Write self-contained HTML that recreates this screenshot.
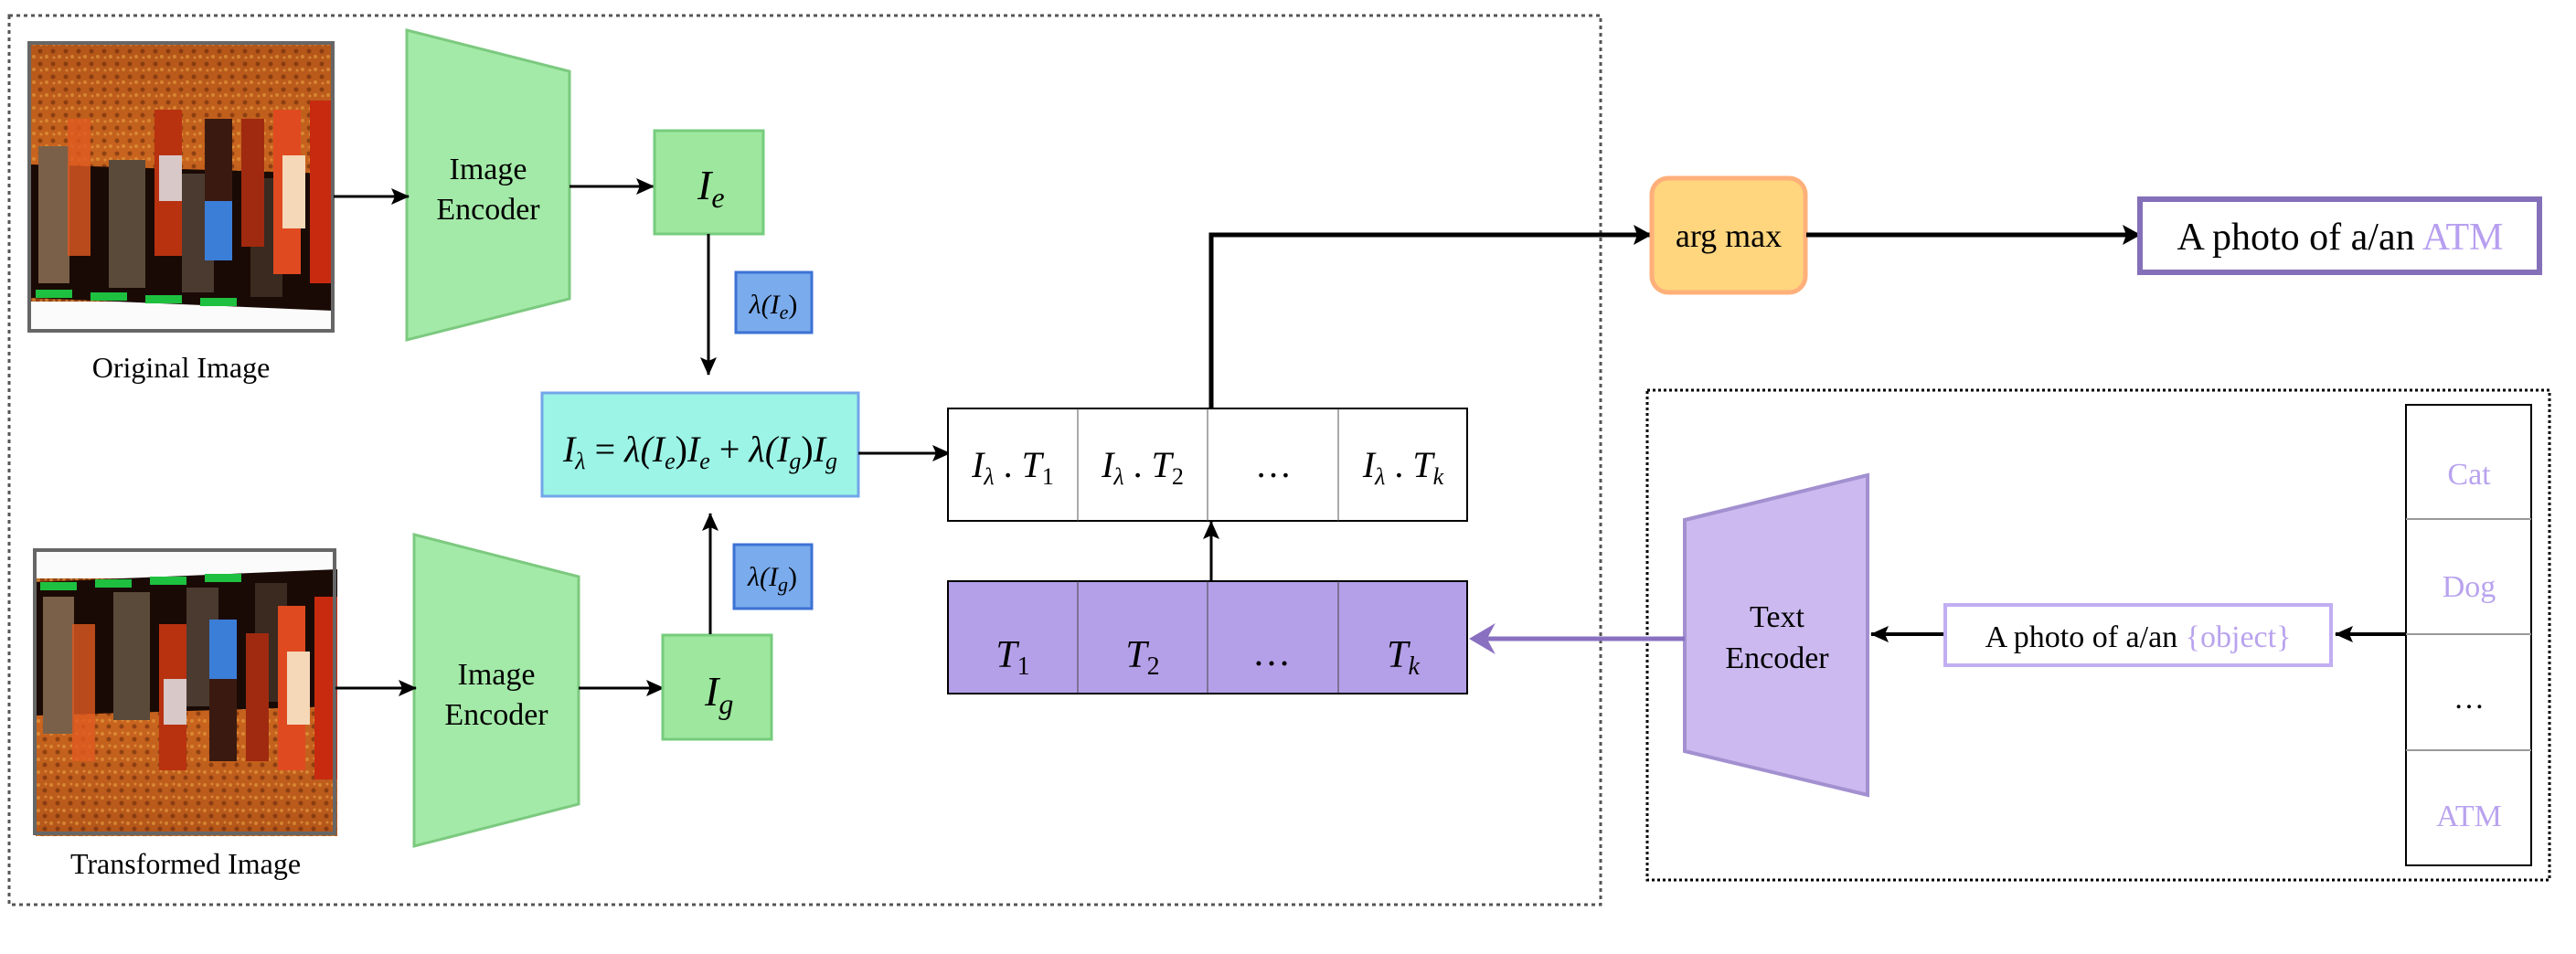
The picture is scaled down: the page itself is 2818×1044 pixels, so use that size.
<!DOCTYPE html>
<html><head><meta charset="utf-8"><style>
html,body{margin:0;padding:0;background:#fff}
svg{display:block}
svg text{font-family:"Liberation Serif","DejaVu Serif",serif !important}
</style></head><body>
<svg width="2818" height="1044" viewBox="0 0 2818 1044" xmlns="http://www.w3.org/2000/svg" font-family="Liberation Serif, serif">
<defs>
<marker id="ah" markerWidth="20" markerHeight="18" refX="19" refY="9" orient="auto" markerUnits="userSpaceOnUse" viewBox="0 0 20 18">
<path d="M0,0 L20,9 L0,18 L4,9 z" fill="#000"/></marker>
<marker id="ahb" markerWidth="20" markerHeight="22" refX="19" refY="11" orient="auto" markerUnits="userSpaceOnUse" viewBox="0 0 20 22">
<path d="M0,0 L20,11 L0,22 L4,11 z" fill="#000"/></marker>
<linearGradient id="gr" x1="0" y1="0" x2="0" y2="1">
<stop offset="0" stop-color="#8a3a10"/><stop offset="0.6" stop-color="#c8641e"/><stop offset="1" stop-color="#b4561a"/></linearGradient>
<pattern id="noise" width="14" height="14" patternUnits="userSpaceOnUse">
<rect width="14" height="14" fill="none"/><circle cx="3" cy="4" r="2" fill="#e8a040" opacity="0.6"/><circle cx="10" cy="10" r="2.5" fill="#5a2008" opacity="0.5"/><circle cx="11" cy="3" r="1.5" fill="#f0b050" opacity="0.5"/>
</pattern>
<g id="scene">
<rect x="0" y="0" width="330" height="312" fill="url(#gr)"/>
<rect x="0" y="0" width="330" height="312" fill="url(#noise)"/>
<rect x="0" y="0" width="330" height="30" fill="#fbfbfb"/>
<polygon points="0,34 330,20 330,170 0,180" fill="#1a0a05"/>
<rect x="8" y="50" width="34" height="150" fill="#7a6048"/>
<rect x="85" y="45" width="40" height="140" fill="#5a4a3a"/>
<rect x="165" y="40" width="35" height="130" fill="#4a3a30"/>
<rect x="240" y="35" width="35" height="130" fill="#3a2a20"/>
<rect x="5" y="34" width="40" height="9" fill="#1ec040"/>
<rect x="65" y="31" width="40" height="9" fill="#1ec040"/>
<rect x="125" y="28" width="40" height="9" fill="#1ec040"/>
<rect x="185" y="25" width="40" height="9" fill="#1ec040"/>
<rect x="135" y="80" width="30" height="160" fill="#b83210"/>
<rect x="140" y="140" width="25" height="50" fill="#d8c8c8"/>
<rect x="190" y="75" width="30" height="65" fill="#3a7ed8"/>
<rect x="190" y="140" width="30" height="90" fill="#3a1a10"/>
<rect x="230" y="90" width="25" height="140" fill="#a02a10"/>
<rect x="265" y="60" width="30" height="180" fill="#e04a20"/>
<rect x="275" y="110" width="25" height="80" fill="#f4d8b8"/>
<rect x="305" y="50" width="25" height="200" fill="#c82a10"/>
<rect x="40" y="80" width="25" height="150" fill="#e05a20" opacity="0.8"/>
</g>
</defs>

<rect x="10" y="17" width="1741" height="973" fill="none" stroke="#555" stroke-width="3" stroke-dasharray="4,4"/>

<g transform="translate(34,360) scale(1,-1)"><use href="#scene"/></g>
<rect x="32" y="47" width="332" height="315" fill="none" stroke="#666" stroke-width="4"/>
<text x="198" y="413" font-size="32" text-anchor="middle">Original Image</text>

<g transform="translate(39,603)"><use href="#scene"/></g>
<rect x="38" y="602" width="328" height="310" fill="none" stroke="#666" stroke-width="4"/>
<text x="203" y="956" font-size="32" text-anchor="middle">Transformed Image</text>

<polygon points="445,33 623,78 623,327 445,372" fill="#a3eaa8" stroke="#7cc97f" stroke-width="3"/>
<text x="534" y="196" font-size="34" text-anchor="middle">Image</text>
<text x="534" y="240" font-size="34" text-anchor="middle">Encoder</text>
<polygon points="453,585 633,631 633,880 453,926" fill="#a3eaa8" stroke="#7cc97f" stroke-width="3"/>
<text x="543" y="749" font-size="34" text-anchor="middle">Image</text>
<text x="543" y="793" font-size="34" text-anchor="middle">Encoder</text>

<line x1="365" y1="215" x2="447" y2="215" stroke="#000" stroke-width="3" marker-end="url(#ah)"/>
<line x1="623" y1="204" x2="715" y2="204" stroke="#000" stroke-width="3" marker-end="url(#ah)"/>
<line x1="367" y1="753" x2="455" y2="753" stroke="#000" stroke-width="3" marker-end="url(#ah)"/>
<line x1="633" y1="753" x2="726" y2="753" stroke="#000" stroke-width="3" marker-end="url(#ah)"/>

<rect x="716" y="143" width="119" height="113" fill="#9de89e" stroke="#76cc7c" stroke-width="3"/>
<text x="763" y="218" font-size="46" font-style="italic">I<tspan font-size="32" dy="9">e</tspan></text>
<rect x="725" y="695" width="119" height="114" fill="#9de89e" stroke="#76cc7c" stroke-width="3"/>
<text x="771" y="772" font-size="46" font-style="italic">I<tspan font-size="32" dy="9">g</tspan></text>

<line x1="775" y1="256" x2="775" y2="410" stroke="#000" stroke-width="3" marker-end="url(#ah)"/>
<line x1="777" y1="694" x2="777" y2="562" stroke="#000" stroke-width="3" marker-end="url(#ah)"/>

<rect x="805" y="298" width="83" height="66" fill="#7aabec" stroke="#3c72d4" stroke-width="3"/>
<text x="846" y="343" font-size="30" text-anchor="middle" font-style="italic">λ(I<tspan font-size="22" dy="6">e</tspan><tspan dy="-6" font-style="normal">)</tspan></text>
<rect x="803" y="596" width="85" height="70" fill="#7aabec" stroke="#3c72d4" stroke-width="3"/>
<text x="845" y="641" font-size="30" text-anchor="middle" font-style="italic">λ(I<tspan font-size="22" dy="6">g</tspan><tspan dy="-6" font-style="normal">)</tspan></text>

<rect x="593" y="430" width="346" height="113" fill="#9cf4e6" stroke="#72a6e8" stroke-width="3"/>
<text x="766" y="505" font-size="40" text-anchor="middle" font-style="italic">I<tspan font-size="26" dy="8">λ</tspan><tspan dy="-8" font-style="normal"> = </tspan>λ(I<tspan font-size="26" dy="8">e</tspan><tspan dy="-8" font-style="normal">)</tspan>I<tspan font-size="26" dy="8">e</tspan><tspan dy="-8" font-style="normal"> + </tspan>λ(I<tspan font-size="26" dy="8">g</tspan><tspan dy="-8" font-style="normal">)</tspan>I<tspan font-size="26" dy="8">g</tspan></text>
<line x1="939" y1="496" x2="1039" y2="496" stroke="#000" stroke-width="3" marker-end="url(#ah)"/>

<rect x="1037" y="447" width="568" height="123" fill="#fff" stroke="#000" stroke-width="2"/>
<line x1="1179" y1="447" x2="1179" y2="570" stroke="#555" stroke-width="1"/>
<line x1="1321" y1="447" x2="1321" y2="570" stroke="#555" stroke-width="1"/>
<line x1="1464" y1="447" x2="1464" y2="570" stroke="#555" stroke-width="1"/>
<g font-size="40" font-style="italic" text-anchor="middle">
<text x="1108" y="522">I<tspan font-size="26" dy="8">λ</tspan><tspan dy="-8" font-style="normal"> . </tspan>T<tspan font-size="26" dy="8" font-style="normal">1</tspan></text>
<text x="1250" y="522">I<tspan font-size="26" dy="8">λ</tspan><tspan dy="-8" font-style="normal"> . </tspan>T<tspan font-size="26" dy="8" font-style="normal">2</tspan></text>
<text x="1393" y="522" font-style="normal">…</text>
<text x="1535" y="522">I<tspan font-size="26" dy="8">λ</tspan><tspan dy="-8" font-style="normal"> . </tspan>T<tspan font-size="26" dy="8">k</tspan></text>
</g>

<rect x="1037" y="636" width="568" height="123" fill="#b4a0e8" stroke="#000" stroke-width="2"/>
<line x1="1179" y1="636" x2="1179" y2="759" stroke="#444" stroke-width="1"/>
<line x1="1321" y1="636" x2="1321" y2="759" stroke="#444" stroke-width="1"/>
<line x1="1464" y1="636" x2="1464" y2="759" stroke="#444" stroke-width="1"/>
<g font-size="42" font-style="italic" text-anchor="middle">
<text x="1108" y="730">T<tspan font-size="28" dy="8" font-style="normal">1</tspan></text>
<text x="1250" y="730">T<tspan font-size="28" dy="8" font-style="normal">2</tspan></text>
<text x="1391" y="728" font-style="normal">…</text>
<text x="1535" y="730">T<tspan font-size="28" dy="8">k</tspan></text>
</g>
<line x1="1325" y1="636" x2="1325" y2="571" stroke="#000" stroke-width="3" marker-end="url(#ah)"/>

<polyline points="1325,447 1325,257 1806,257" fill="none" stroke="#000" stroke-width="5" marker-end="url(#ahb)"/>
<rect x="1807" y="195" width="168" height="125" rx="18" fill="#ffd57e" stroke="#ffb07a" stroke-width="5"/>
<text x="1891" y="270" font-size="36" text-anchor="middle">arg max</text>
<line x1="1976" y1="257" x2="2341" y2="257" stroke="#000" stroke-width="5" marker-end="url(#ahb)"/>
<rect x="2341" y="218" width="437" height="80" fill="#fff" stroke="#8470b8" stroke-width="6"/>
<text x="2560" y="273" font-size="42" text-anchor="middle">A photo of a/an <tspan fill="#b79ff0">ATM</tspan></text>

<rect x="1802" y="427" width="987" height="536" fill="none" stroke="#000" stroke-width="3" stroke-dasharray="3,3"/>

<rect x="2632" y="443" width="137" height="504" fill="#fff" stroke="#000" stroke-width="2"/>
<line x1="2632" y1="568" x2="2769" y2="568" stroke="#999" stroke-width="2"/>
<line x1="2632" y1="694" x2="2769" y2="694" stroke="#999" stroke-width="2"/>
<line x1="2632" y1="821" x2="2769" y2="821" stroke="#999" stroke-width="2"/>
<g font-size="34" text-anchor="middle" fill="#b9a3ee">
<text x="2701" y="530">Cat</text>
<text x="2701" y="653">Dog</text>
<text x="2701" y="775" fill="#000">…</text>
<text x="2701" y="904">ATM</text>
</g>

<line x1="2632" y1="694" x2="2555" y2="694" stroke="#000" stroke-width="4" marker-end="url(#ah)"/>
<rect x="2128" y="662" width="422" height="66" fill="#fff" stroke="#c2aef2" stroke-width="4"/>
<text x="2339" y="708" font-size="34" text-anchor="middle">A photo of a/an <tspan fill="#b9a3ee">{object}</tspan></text>
<line x1="2126" y1="694" x2="2047" y2="694" stroke="#000" stroke-width="4" marker-end="url(#ah)"/>

<polygon points="1843,569 2043,520 2043,870 1843,822" fill="#cbb9ef" stroke="#a290d0" stroke-width="4"/>
<text x="1944" y="686" font-size="34" text-anchor="middle">Text</text>
<text x="1944" y="731" font-size="34" text-anchor="middle">Encoder</text>

<line x1="1843" y1="699" x2="1620" y2="699" stroke="#8a70c0" stroke-width="5"/>
<path d="M1632,686 L1610,699 L1632,712 L1625,699 z" fill="#8a70c0" stroke="#8a70c0" stroke-width="3"/>
</svg>
</body></html>
